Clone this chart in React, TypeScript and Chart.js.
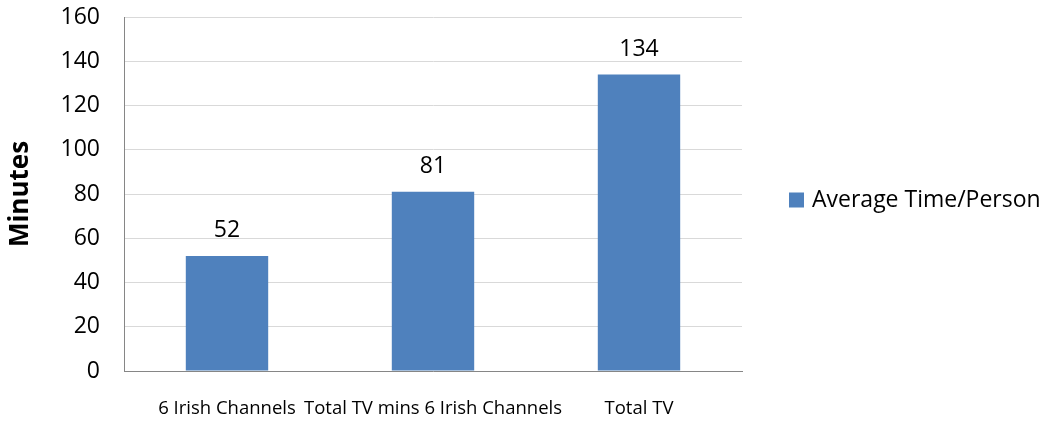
import React, { useEffect, useRef } from "react";
import { Chart, registerables } from "chart.js";

Chart.register(...registerables);

const categories = ["6 Irish Channels", "Total TV mins 6 Irish Channels", "Total TV"];
const seriesLabel = "Average Time/Person";
const seriesValues = [52, 81, 134];
const yTickValues = [0, 20, 40, 60, 80, 100, 120, 140, 160];
const yTitle = "Minutes";

const FONT = "'Open Sans', 'DejaVu Sans', sans-serif";
const BAR_COLOR = "#4F81BD";

const valueLabels = {
  id: "valueLabels",
  afterDatasetsDraw(chart: any) {
    const ctx = chart.ctx;
    const meta = chart.getDatasetMeta(0);
    ctx.save();
    ctx.font = `23px ${FONT}`;
    ctx.fillStyle = "#000";
    ctx.textAlign = "center";
    ctx.textBaseline = "alphabetic";
    meta.data.forEach((el: any, i: number) => {
      const v = chart.data.datasets[0].data[i];
      ctx.fillText(String(v), el.x, el.y - 19);
    });
    ctx.restore();
  },
};

const rightLegend = {
  id: "rightLegend",
  afterDraw(chart: any) {
    const ctx = chart.ctx;
    const ds = chart.data.datasets[0];
    const area = chart.chartArea;
    const cy = (area.top + area.bottom) / 2 + 6;
    const x0 = area.right + 47;
    ctx.save();
    ctx.fillStyle = ds.backgroundColor;
    ctx.fillRect(x0, cy - 7.5, 15, 15);
    ctx.font = `23px ${FONT}`;
    ctx.fillStyle = "#000";
    ctx.textAlign = "left";
    ctx.textBaseline = "middle";
    ctx.fillText(ds.label, x0 + 23, cy);
    ctx.restore();
  },
};

export default function App() {
  const ref = useRef<HTMLCanvasElement>(null);
  useEffect(() => {
    document.body.style.margin = "0";
    const chart = new Chart(ref.current!, {
      type: "bar",
      data: {
        labels: categories,
        datasets: [
          {
            label: seriesLabel,
            data: seriesValues,
            backgroundColor: BAR_COLOR,
            categoryPercentage: 1,
            barPercentage: 0.4,
          },
        ],
      },
      options: {
        responsive: false,
        animation: false,
        layout: { padding: { top: 17, right: 306, left: 0, bottom: 0 } },
        plugins: {
          legend: { display: false },
          tooltip: { enabled: false },
        },
        scales: {
          x: {
            grid: { display: false, drawTicks: false },
            border: { display: true, color: "#868686", width: 1 },
            ticks: {
              padding: 27,
              color: "#000",
              font: { family: FONT, size: 18.5 },
              maxRotation: 0,
              autoSkip: false,
            },
            afterFit(scale: any) {
              scale.height = 50;
              scale.paddingLeft = 0;
              scale.paddingRight = 0;
            },
          },
          y: {
            min: 0,
            max: 160,
            afterBuildTicks(scale: any) {
              scale.ticks = yTickValues.map((v) => ({ value: v }));
            },
            grid: { color: "#D9D9D9", drawTicks: false, lineWidth: 1 },
            border: { display: true, color: "#868686", width: 1 },
            ticks: {
              padding: 24,
              color: "#000",
              font: { family: FONT, size: 23 },
            },
            title: {
              display: true,
              text: yTitle,
              color: "#000",
              font: { family: FONT, size: 26, weight: "bold" },
              padding: { top: 5, bottom: 0 },
            },
            afterFit(scale: any) {
              scale.width = 124;
              scale.paddingTop = 0;
              scale.paddingBottom = 0;
            },
          },
        },
      },
      plugins: [valueLabels, rightLegend],
    });
    return () => chart.destroy();
  }, []);
  return (
    <div style={{ width: 1048, height: 421, background: "#fff" }}>
      <canvas ref={ref} width={1048} height={421} style={{ display: "block" }} />
    </div>
  );
}
